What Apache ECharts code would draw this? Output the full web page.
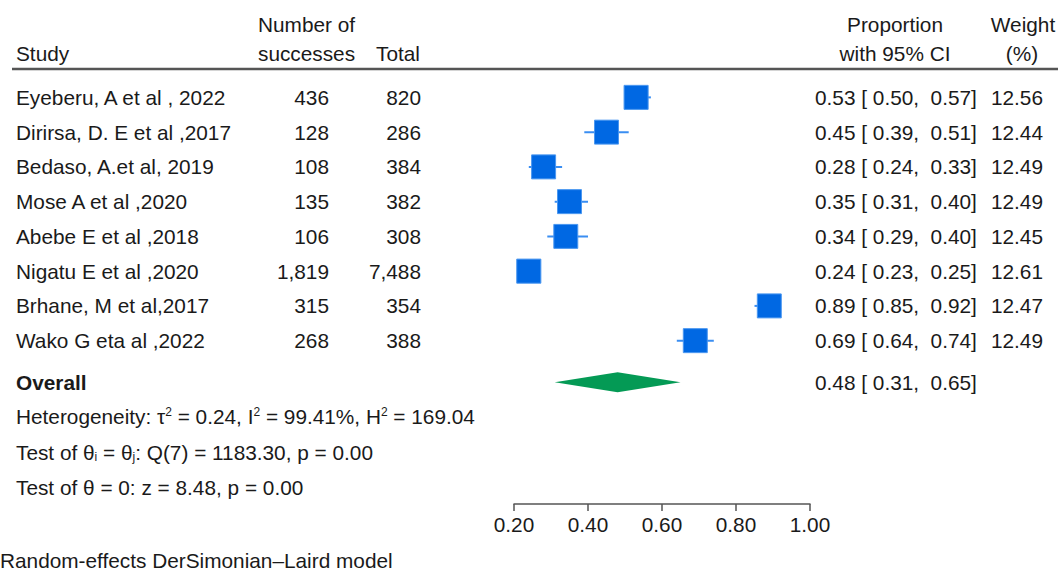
<!DOCTYPE html>
<html><head><meta charset="utf-8">
<script src="https://cdn.jsdelivr.net/npm/echarts@6/dist/echarts.min.js"></script>
<style>html,body{margin:0;padding:0;background:#fff}#c{width:1058px;height:572px}</style>
</head><body><div id="c"></div>
<script>
const studies = ["Eyeberu, A et al , 2022","Dirirsa, D. E et al ,2017","Bedaso, A.et al, 2019","Mose A et al ,2020","Abebe E et al ,2018","Nigatu E et al ,2020","Brhane, M et al,2017","Wako G eta al ,2022"];
const successes = [436,128,108,135,106,1819,315,268];
const totals = [820,286,384,382,308,7488,354,388];
const proportion = [0.53,0.45,0.28,0.35,0.34,0.24,0.89,0.69];
const ciLow = [0.50,0.39,0.24,0.31,0.29,0.23,0.85,0.64];
const ciHigh = [0.57,0.51,0.33,0.40,0.40,0.25,0.92,0.74];
const weights = [12.56,12.44,12.49,12.49,12.45,12.61,12.47,12.49];
const overallEstimate = [0.48, 0.31, 0.65]; // estimate, low, high
const xTicks = [0.20, 0.40, 0.60, 0.80, 1.00];

const FONT = '"Liberation Sans", Arial, sans-serif';
const FS = 20.8;
const INK = '#1a1a1a';
const fmtN = v => v.toLocaleString('en-US');
const f2 = v => v.toFixed(2);
const ciText = (e,l,h) => f2(e) + ' [ ' + f2(l) + ',  ' + f2(h) + ']';

function txt(x, y, text, align, extra) {
  return {type:'text', x:x, y:y, style:Object.assign({text:text, fontSize:FS, fontFamily:FONT, fill:INK, align:align||'left', verticalAlign:'middle'}, extra||{})};
}

const chart = echarts.init(document.getElementById('c'), null, {renderer:'svg'});
const OVERALL_ROW = 8.2;
chart.setOption({
  animation:false,
  backgroundColor:'#fff',
  grid:{left:514, right:248, top:80, bottom:68},
  xAxis:{type:'value', min:xTicks[0], max:xTicks[xTicks.length-1], interval:0.2,
    axisLine:{show:true, onZero:false, lineStyle:{color:'#555', width:1.5}},
    axisTick:{show:true, length:7, lineStyle:{color:'#555', width:1.5}},
    axisLabel:{fontSize:FS, fontFamily:FONT, color:INK, margin:10, formatter:v=>f2(v)},
    splitLine:{show:false}},
  yAxis:{type:'value', inverse:true, min:-0.5, max:11.7, show:false},
  graphic:[
    txt(258, 24, 'Number of'), txt(258, 53, 'successes'),
    txt(16, 53, 'Study'), txt(376, 53, 'Total'),
    txt(895, 24, 'Proportion', 'center'), txt(895, 53, 'with 95% CI', 'center'),
    txt(1023, 24, 'Weight', 'center'), txt(1022, 53, '(%)', 'center'),
    {type:'line', shape:{x1:12, y1:69, x2:1058, y2:69}, style:{stroke:'#555', lineWidth:2.5}},
    txt(16, 416, 'Heterogeneity: τ{sup|2} = 0.24, I{sup|2} = 99.41%, H{sup|2} = 169.04', 'left', {rich:{sup:{fontSize:12, fontFamily:FONT, fill:INK, verticalAlign:'top'}}}),
    txt(16, 452, 'Test of θ{sub|i} = θ{sub|j}: Q(7) = 1183.30, p = 0.00', 'left', {rich:{sub:{fontSize:12, fontFamily:FONT, fill:INK, verticalAlign:'bottom'}}}),
    txt(16, 487, 'Test of θ = 0: z = 8.48, p = 0.00'),
    txt(0, 560, 'Random-effects DerSimonian–Laird model')
  ],
  series:[
    {type:'custom', data:studies.map((s,i)=>[proportion[i], i]), encode:{x:0, y:1},
     renderItem:function(params, api){
       const i = params.dataIndex;
       const p = api.coord([proportion[i], i]);
       const y = p[1];
       const xl = api.coord([ciLow[i], i])[0];
       const xh = api.coord([ciHigh[i], i])[0];
       const s = 24*Math.sqrt(weights[i]/12.5);
       return {type:'group', children:[
         {type:'line', shape:{x1:xl, y1:y, x2:xh, y2:y}, style:{stroke:'#3a8ef2', lineWidth:2}},
         {type:'rect', shape:{x:p[0]-s/2, y:y-s/2, width:s, height:s}, style:{fill:'#0068e3', stroke:'#4a97f0', lineWidth:1}},
         txt(16, y, studies[i]),
         txt(329, y, fmtN(successes[i]), 'right'),
         txt(421, y, fmtN(totals[i]), 'right'),
         txt(815, y, ciText(proportion[i], ciLow[i], ciHigh[i])),
         txt(1043, y, f2(weights[i]), 'right')
       ]};
     }},
    {type:'custom', data:[[overallEstimate[0], OVERALL_ROW]], encode:{x:0, y:1},
     renderItem:function(params, api){
       const c = api.coord([overallEstimate[0], OVERALL_ROW]);
       const l = api.coord([overallEstimate[1], OVERALL_ROW]);
       const h = api.coord([overallEstimate[2], OVERALL_ROW]);
       const y = c[1];
       return {type:'group', children:[
         {type:'polygon', shape:{points:[[l[0],y],[c[0],y-10],[h[0],y],[c[0],y+10]]}, style:{fill:'#049a55'}},
         txt(16, y, 'Overall', 'left', {fontWeight:'bold'}),
         txt(815, y, ciText(overallEstimate[0], overallEstimate[1], overallEstimate[2]))
       ]};
     }}
  ]
});
</script></body></html>
